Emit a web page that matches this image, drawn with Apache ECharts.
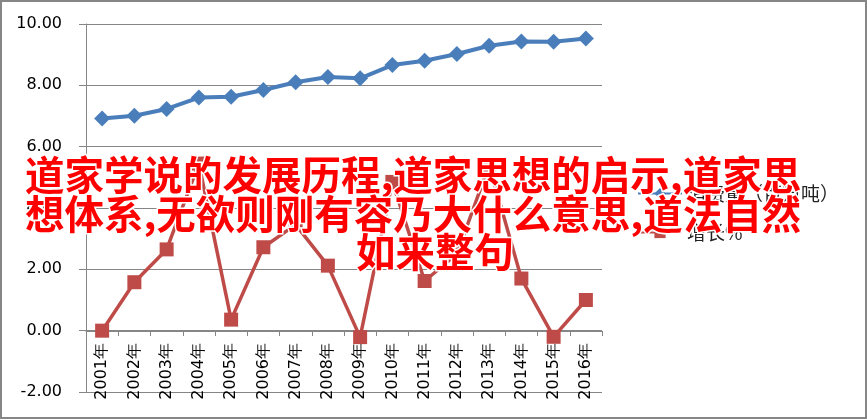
<!DOCTYPE html>
<html><head><meta charset="utf-8">
<script src="https://cdn.jsdelivr.net/npm/echarts@6/dist/echarts.min.js"></script>
<style>html,body{margin:0;padding:0;background:#fff}#c{width:867px;height:420px}</style>
</head><body><div id="c"></div>
<script>
const categories = ['2001年','2002年','2003年','2004年','2005年','2006年','2007年','2008年','2009年','2010年','2011年','2012年','2013年','2014年','2015年','2016年'];
const consumption = [6.92, 7.01, 7.23, 7.6, 7.63, 7.85, 8.1, 8.27, 8.23, 8.66, 8.8, 9.02, 9.29, 9.43, 9.42, 9.53];
const growth = [0.0, 1.58, 2.65, 5.45, 0.36, 2.72, 3.46, 2.12, -0.21, 4.85, 1.62, 2.5, 5.4, 1.7, -0.2, 1.0];
const seriesNames = ['消费量（百万吨）', '增长%'];
const titleLines = ['道家学说的发展历程,道家思想的启示,道家思', '想体系,无欲则刚有容乃大什么意思,道法自然', '如来整句'];
const yMin = -2, yMax = 10, yStep = 2;

const chart = echarts.init(document.getElementById('c'), null, {renderer: 'canvas'});
const axisColor = '#868686';
const labelFont = 'DejaVu Sans';
const titleFont = 'bold 39.5px "Noto Sans CJK SC"';
const gridTop = 24, gridBottom = 28;
const plotH = 420 - gridTop - gridBottom;
const zeroOffset = -Math.round(plotH * (0 - yMin) / (yMax - yMin));
chart.setOption({
  animation: false,
  backgroundColor: '#fff',
  grid: {left: 86, right: 265, top: gridTop, bottom: gridBottom, containLabel: false, outerBoundsMode: 'none'},
  legend: {
    orient: 'vertical', left: 632, top: 179, itemGap: 20,
    itemWidth: 44, itemHeight: 14,
    textStyle: {fontSize: 19, color: '#222', fontFamily: 'Noto Sans CJK SC'},
    data: seriesNames
  },
  xAxis: {
    type: 'category', data: categories, boundaryGap: true, offset: zeroOffset,
    axisLine: {onZero: false, lineStyle: {color: axisColor, width: 1}},
    axisTick: {show: true, interval: 0, length: 5, lineStyle: {color: axisColor}},
    axisLabel: {rotate: 90, interval: 0, margin: 12, fontSize: 16, color: '#000', fontFamily: labelFont, hideOverlap: false}
  },
  yAxis: {
    type: 'value', min: yMin, max: yMax, interval: yStep,
    axisLine: {show: true, lineStyle: {color: axisColor, width: 1}},
    axisTick: {show: true, length: 7, lineStyle: {color: axisColor}},
    splitLine: {show: true, lineStyle: {color: axisColor, width: 1}},
    axisLabel: {margin: 24, fontSize: 16, color: '#000', fontFamily: labelFont, formatter: v => v.toFixed(2)}
  },
  series: [
    {name: seriesNames[0], type: 'line', data: consumption, symbol: 'diamond', symbolSize: 16,
     lineStyle: {color: '#4a7ebb', width: 4}, itemStyle: {color: '#4a7ebb'}, z: 3},
    {name: seriesNames[1], type: 'line', data: growth, symbol: 'rect', symbolSize: 14,
     lineStyle: {color: '#be4b48', width: 3.5}, itemStyle: {color: '#be4b48'}, z: 2}
  ],
  graphic: [
    {type: 'rect', shape: {x: 1, y: 1, width: 865, height: 417}, style: {fill: 'none', stroke: axisColor, lineWidth: 2}, z: 100},
    {type: 'text', x: 25, y: 155, z: 200,
     style: {text: titleLines[0] + '\n' + titleLines[1], font: titleFont, lineHeight: 39, fill: '#ff0000', stroke: '#fff', lineWidth: 3, align: 'left', verticalAlign: 'top'}},
    {type: 'text', x: 435, y: 232, z: 200,
     style: {text: titleLines[2], font: titleFont, lineHeight: 39, fill: '#ff0000', stroke: '#fff', lineWidth: 3, align: 'center', verticalAlign: 'top'}}
  ]
});
</script></body></html>
